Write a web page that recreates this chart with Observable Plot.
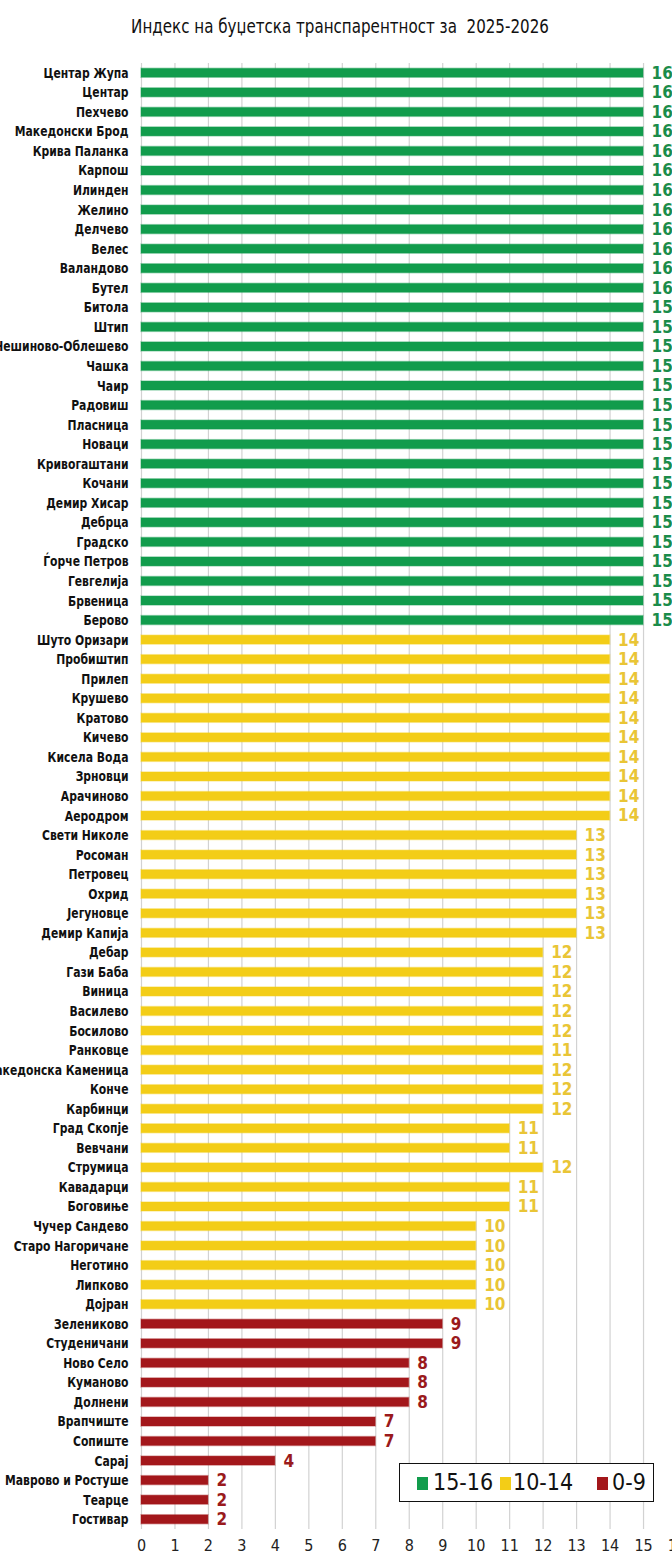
<!DOCTYPE html>
<html>
<head>
<meta charset="utf-8">
<script src="https://cdn.jsdelivr.net/npm/d3@7"></script>
<script src="https://cdn.jsdelivr.net/npm/@observablehq/plot@0.6"></script>
<style>
  html, body { margin: 0; padding: 0; background: #fff; }
  body { width: 672px; height: 1555px; overflow: hidden; position: relative;
         font-family: 'DejaVu Sans Condensed', 'DejaVu Sans', sans-serif; }
  #title { height: 48px; line-height: 52px; text-align: center; font-size: 20px; color: #111;
           padding-left: 8px; box-sizing: border-box; transform: scaleX(0.84); transform-origin: 340px 50%; white-space: nowrap; overflow: visible; }
  #legend { position: absolute; left: 399px; top: 1463px; width: 255px; height: 39px; border: 1.5px solid #111; box-sizing: border-box; background: #fff; }
  #legend .sw { position: absolute; top: 13px; width: 11px; height: 13px; }
  #legend .lb { position: absolute; top: 4px; font-size: 23px; line-height: 28px; color: #111; }
</style>
</head>
<body>
<div id="title">Индекс на буџетска транспарентност за&nbsp; 2025-2026</div>
<div id="chart"></div>
<div id="legend"></div>
<script>
const municipalities = [
  "Центар Жупа","Центар","Пехчево","Македонски Брод","Крива Паланка","Карпош","Илинден","Желино","Делчево","Велес","Валандово","Бутел",
  "Битола","Штип","Чешиново-Облешево","Чашка","Чаир","Радовиш","Пласница","Новаци","Кривогаштани","Кочани","Демир Хисар","Дебрца","Градско","Ѓорче Петров","Гевгелија","Брвеница","Берово",
  "Шуто Оризари","Пробиштип","Прилеп","Крушево","Кратово","Кичево","Кисела Вода","Зрновци","Арачиново","Аеродром",
  "Свети Николе","Росоман","Петровец","Охрид","Јегуновце","Демир Капија",
  "Дебар","Гази Баба","Виница","Василево","Босилово","Ранковце","Македонска Каменица","Конче","Карбинци",
  "Град Скопје","Вевчани","Струмица","Кавадарци","Боговиње",
  "Чучер Сандево","Старо Нагоричане","Неготино","Липково","Дојран",
  "Зелениково","Студеничани","Ново Село","Куманово","Долнени","Врапчиште","Сопиште","Сарај","Маврово и Ростуше","Теарце","Гостивар"
];
// score printed next to each bar
const scores = [
  16,16,16,16,16,16,16,16,16,16,16,16,
  15,15,15,15,15,15,15,15,15,15,15,15,15,15,15,15,15,
  14,14,14,14,14,14,14,14,14,14,
  13,13,13,13,13,13,
  12,12,12,12,12,11,12,12,12,
  11,11,12,11,11,
  10,10,10,10,10,
  9,9,8,8,8,7,7,4,2,2,2
];
// bar length as drawn in the picture
const barLengths = [
  15,15,15,15,15,15,15,15,15,15,15,15,
  15,15,15,15,15,15,15,15,15,15,15,15,15,15,15,15,15,
  14,14,14,14,14,14,14,14,14,14,
  13,13,13,13,13,13,
  12,12,12,12,12,12,12,12,12,
  11,11,12,11,11,
  10,10,10,10,10,
  9,9,8,8,8,7,7,4,2,2,2
];
const groups = ["15-16","10-14","0-9"];
const groupColors = ["#119c4c","#f3cd17","#a3171b"];
const labelColors = ["#1a8c4a","#e9c536","#9a1a1c"];
const xTicks = d3.range(0, 17);

const groupOf = s => s >= 15 ? groups[0] : s >= 10 ? groups[1] : groups[2];
const data = municipalities.map((name, i) => ({
  name, score: scores[i], bar: barLengths[i], group: groupOf(scores[i])
}));

const FONT = "'DejaVu Sans Condensed', 'DejaVu Sans', sans-serif";
const chart = Plot.plot({
  width: 672,
  height: 1507,
  marginLeft: 141,
  marginRight: 0,
  marginTop: 15,
  marginBottom: 26,
  style: { fontFamily: FONT, overflow: "visible", background: "#fff" },
  x: { domain: [0, 16], range: [141, 676.5], label: null },
  y: { domain: municipalities, paddingInner: 0.54, paddingOuter: 0.27, label: null },
  color: { domain: groups, range: groupColors },
  marks: [
    Plot.gridX(xTicks.slice(0, 16), { stroke: "#d2d2d2", strokeOpacity: 1, strokeWidth: 1.2 }),
    Plot.barX(data, { y: "name", x1: 0, x2: "bar", fill: "group", stroke: "group", strokeOpacity: 0.35, strokeWidth: 1.5 }),
    Plot.text(data, { y: "name", x: "bar", text: d => String(d.score), dx: 8, textAnchor: "start",
      fill: d => labelColors[groups.indexOf(d.group)], fontSize: 17, fontWeight: "bold" }),
    Plot.axisY({ tickSize: 0, tickPadding: 13, fontSize: 14, fontWeight: "bold", fill: "#111" }),
    Plot.axisX({ ticks: xTicks, tickSize: 0, tickPadding: 10, fontSize: 16, fill: "#222" })
  ]
});
document.getElementById("chart").appendChild(chart);

// horizontally condense the municipality names (reference uses a narrow face)
const squeeze = 0.86;
chart.querySelectorAll('g[aria-label="y-axis tick label"] text').forEach(t => {
  const tr = t.getAttribute("transform") || "";
  const x = +t.getAttribute("x") || 0, y = +t.getAttribute("y") || 0;
  if (x || y) {
    t.removeAttribute("x"); t.removeAttribute("y");
    t.setAttribute("transform", `${tr} translate(${x},${y}) scale(${squeeze},1)`);
  } else {
    t.setAttribute("transform", `${tr} scale(${squeeze},1)`);
  }
});

// legend overlay
const legend = document.getElementById("legend");
const swX = [17, 100, 197];
const lbX = [33, 113, 212];
groups.forEach((g, i) => {
  const sw = document.createElement("div");
  sw.className = "sw"; sw.style.left = swX[i] + "px"; sw.style.background = groupColors[i];
  legend.appendChild(sw);
  const lb = document.createElement("div");
  lb.className = "lb"; lb.style.left = lbX[i] + "px"; lb.textContent = g;
  legend.appendChild(lb);
});
</script>
</body>
</html>
